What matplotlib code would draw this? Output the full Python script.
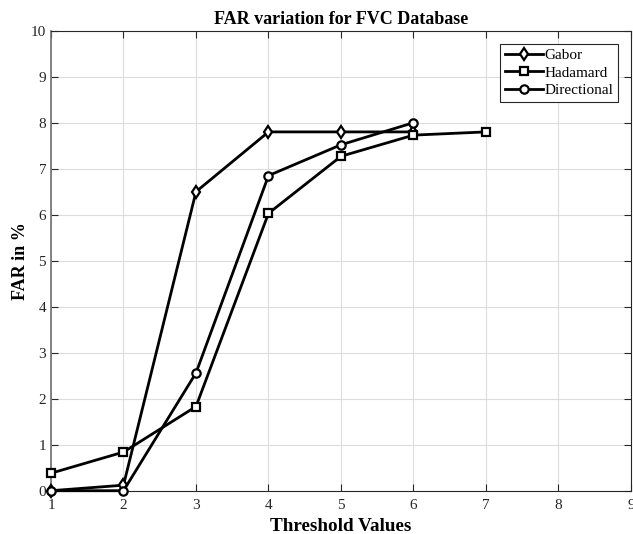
import matplotlib
matplotlib.use("Agg")
import matplotlib.pyplot as plt

# data
threshold_g = [1, 2, 3, 4, 5, 6]
gabor = [0.0, 0.12, 6.5, 7.8, 7.8, 7.8]

threshold_h = [1, 2, 3, 4, 5, 6, 7]
hadamard = [0.38, 0.84, 1.83, 6.03, 7.27, 7.73, 7.8]

threshold_d = [1, 2, 3, 4, 5, 6]
directional = [0.0, 0.0, 2.56, 6.85, 7.52, 8.0]

xticks = [1, 2, 3, 4, 5, 6, 7, 8, 9]
yticks = [0, 1, 2, 3, 4, 5, 6, 7, 8, 9, 10]

plt.rcParams['font.family'] = ['Liberation Serif', 'DejaVu Serif']

fig = plt.figure(figsize=(6.33, 5.34), dpi=100)
ax = fig.add_axes([51 / 633, 1 - 490.7 / 534, 580 / 633, 460 / 534])

estilo = dict(color='black', linewidth=2, markersize=6, markerfacecolor='white',
              markeredgecolor='black', markeredgewidth=1.6, clip_on=False, zorder=3)
ax.plot(threshold_g, gabor, marker='d', label='Gabor', **estilo)
ax.plot(threshold_h, hadamard, marker='s', label='Hadamard', **estilo)
ax.plot(threshold_d, directional, marker='o', label='Directional', **estilo)

ax.set_xlim(1, 9)
ax.set_ylim(0, 10)
ax.set_xticks(xticks)
ax.set_yticks(yticks)

ax.grid(True, color='#dcdcdc', linewidth=0.8)
ax.set_axisbelow(True)
ax.tick_params(direction='in', length=5, width=0.8, top=True, right=True,
               labelsize=11, colors='#262626')
ax.tick_params(axis='x', pad=6)
for s in ax.spines.values():
    s.set_color('#262626')
    s.set_linewidth(0.8)
ax.spines['left'].set_color('#707070')
ax.spines['left'].set_linewidth(1.2)

ax.set_title('FAR variation for FVC Database', fontsize=13, fontweight='bold', pad=5)
ax.set_xlabel('Threshold Values', fontsize=13.8, fontweight='bold', labelpad=4)
ax.set_ylabel('FAR in %', fontsize=13, fontweight='bold', labelpad=1)

leg = ax.legend(loc='upper right', bbox_to_anchor=(0.978, 0.971), fontsize=11,
                fancybox=False, framealpha=1, edgecolor='#262626',
                handlelength=2.5, handletextpad=0.1, borderpad=0.3,
                labelspacing=0.25, borderaxespad=0)
leg.get_frame().set_linewidth(0.8)

fig.savefig('out.png', dpi=100)
